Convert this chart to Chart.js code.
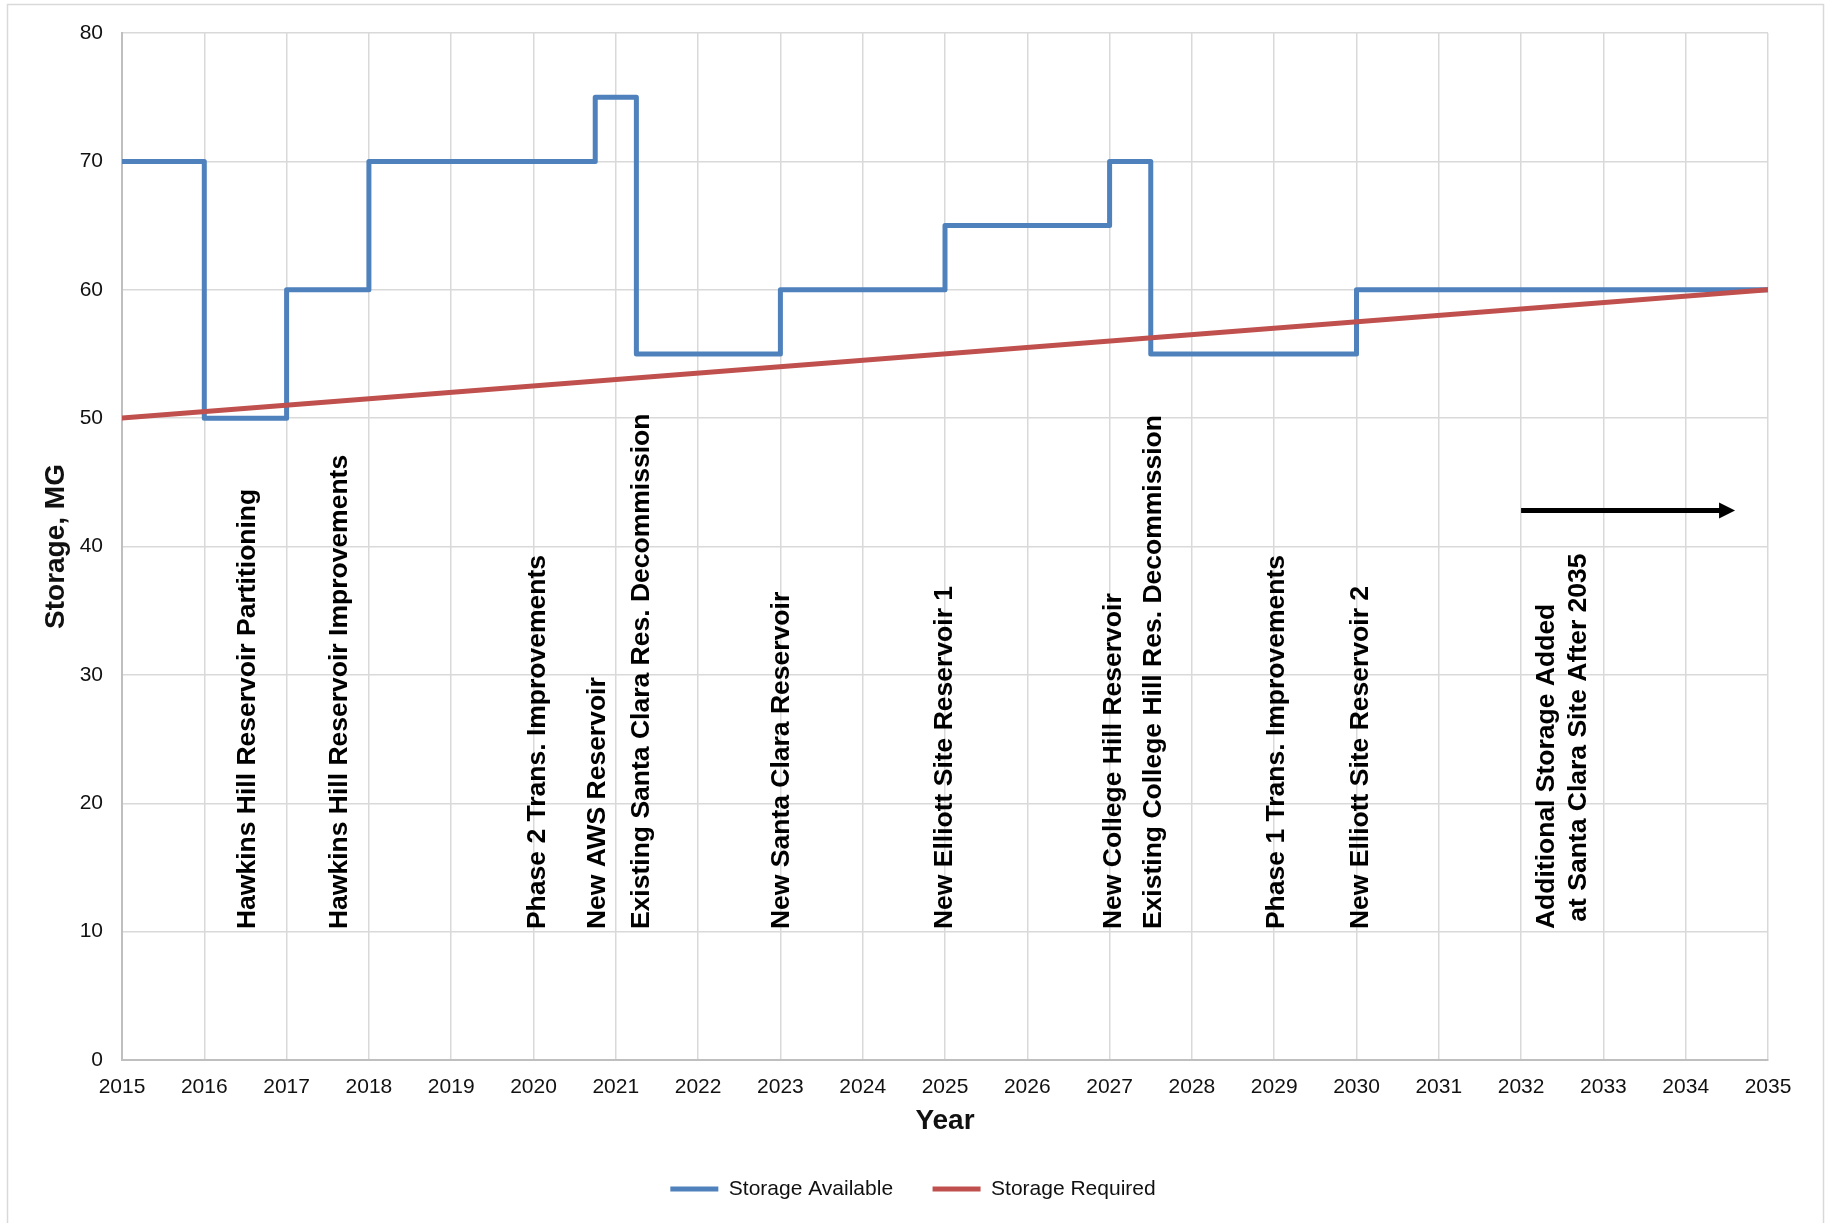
<!DOCTYPE html>
<html>
<head>
<meta charset="utf-8">
<title>Storage Available vs Storage Required</title>
<script src="https://cdn.jsdelivr.net/npm/chart.js@4.4.1/dist/chart.umd.min.js"></script>
<style>
  html, body { margin: 0; padding: 0; background: #fff; }
  canvas { display: block; }
</style>
</head>
<body>
<canvas id="storageChart" width="1826" height="1223"></canvas>
<script>
// storage available: each value holds until the next year in the list
var availableYears = [2015, 2016, 2017, 2018, 2020.75, 2021.25, 2023, 2025, 2027, 2027.5, 2030, 2035];
var storageAvailable = [70, 50, 60, 70, 75, 55, 60, 65, 70, 55, 60, 60];

// storage required grows straight from 2015 to 2035
var requiredYears = [2015, 2035];
var storageRequired = [50, 60];

// project notes written up the chart, one per year position
var noteYears = [2016.53, 2017.64, 2020.05, 2020.78, 2021.31, 2023.01, 2025, 2027.05, 2027.54, 2029.03, 2030.05, 2032.5];
var noteLabels = [
    'Hawkins Hill Reservoir Partitioning',
    'Hawkins Hill Reservoir Improvements',
    'Phase 2 Trans. Improvements',
    'New AWS Reservoir',
    'Existing Santa Clara Res. Decommission',
    'New Santa Clara Reservoir',
    'New Elliott Site Reservoir 1',
    'New College Hill Reservoir',
    'Existing College Hill Res. Decommission',
    'Phase 1 Trans. Improvements',
    'New Elliott Site Reservoir 2',
    ['Additional Storage Added', ' at Santa Clara Site After 2035']
];
var noteBase = 10.2;

// arrow pointing past 2035
var arrowYears = [2032, 2034.6];
var arrowLevel = 42.8;

var blue = '#4f81bd';
var red = '#c0504d';
var fontFamily = '"Liberation Sans", Arial, sans-serif';

function points(xs, ys) {
    return xs.map((x, i) => ({x: x, y: ys[i]}));
}

var framePlugin = {
    id: 'frame',
    beforeDraw(chart) {
        const ctx = chart.ctx;
        ctx.save();
        ctx.fillStyle = '#fff';
        ctx.fillRect(0, 0, chart.width, chart.height);
        ctx.restore();
    },
    afterLayout(chart) {
        // center the legend on the whole frame
        const lg = chart.legend;
        lg.left = 0;
        lg.right = chart.width;
        lg.width = chart.width;
    },
    afterDraw(chart) {
        const ctx = chart.ctx;
        ctx.save();
        ctx.strokeStyle = '#d9d9d9';
        ctx.lineWidth = 1.5;
        ctx.strokeRect(7.5, 4.5, chart.width - 10, chart.height + 20);
        ctx.restore();
    }
};

var notesPlugin = {
    id: 'notes',
    afterDatasetsDraw(chart) {
        const ctx = chart.ctx;
        const x = chart.scales.x;
        const y = chart.scales.y;
        ctx.save();
        ctx.fillStyle = '#000';
        ctx.font = 'bold 26.5px ' + fontFamily;
        ctx.textAlign = 'left';
        ctx.textBaseline = 'middle';
        noteLabels.forEach((label, i) => {
            const lines = [].concat(label);
            const cx = x.getPixelForValue(noteYears[i]);
            const by = y.getPixelForValue(noteBase);
            lines.forEach((line, j) => {
                ctx.save();
                ctx.translate(cx + (j - (lines.length - 1) / 2) * 32, by);
                ctx.rotate(-Math.PI / 2);
                ctx.fillText(line, 0, 0);
                ctx.restore();
            });
        });

        // arrow
        const x0 = x.getPixelForValue(arrowYears[0]);
        const x1 = x.getPixelForValue(arrowYears[1]);
        const ay = y.getPixelForValue(arrowLevel);
        ctx.strokeStyle = '#000';
        ctx.lineWidth = 5;
        ctx.beginPath();
        ctx.moveTo(x0, ay);
        ctx.lineTo(x1 - 14, ay);
        ctx.stroke();
        ctx.beginPath();
        ctx.moveTo(x1, ay);
        ctx.lineTo(x1 - 16, ay - 8);
        ctx.lineTo(x1 - 16, ay + 8);
        ctx.closePath();
        ctx.fill();
        ctx.restore();
    }
};

var ctx = document.getElementById('storageChart').getContext('2d');

var storageChart = new Chart(ctx, {
    type: 'line',
    data: {
        datasets: [{
            label: 'Storage Required',
            data: points(requiredYears, storageRequired),
            borderColor: red,
            backgroundColor: red,
            borderWidth: 5,
            borderCapStyle: 'round',
            pointRadius: 0,
            fill: false
        }, {
            label: 'Storage Available',
            data: points(availableYears, storageAvailable),
            borderColor: blue,
            backgroundColor: blue,
            borderWidth: 5,
            borderCapStyle: 'round',
            borderJoinStyle: 'round',
            stepped: 'before',
            pointRadius: 0,
            fill: false
        }]
    },
    options: {
        responsive: false,
        animation: false,
        devicePixelRatio: 1,
        layout: {
            padding: {left: 8, top: 33, right: 58, bottom: 13.5}
        },
        scales: {
            x: {
                type: 'linear',
                min: 2015,
                max: 2035,
                afterFit: (scale) => { scale.height = 79; },
                ticks: {
                    stepSize: 1,
                    padding: 15,
                    color: '#111',
                    font: {family: fontFamily, size: 21},
                    callback: (value) => String(value)
                },
                grid: {color: '#d9d9d9', lineWidth: 1.5, drawTicks: false},
                border: {color: '#bfbfbf', width: 2},
                title: {
                    display: true,
                    text: 'Year',
                    color: '#111',
                    font: {family: fontFamily, size: 28, weight: 'bold'},
                    padding: {top: 0, bottom: 1}
                }
            },
            y: {
                min: 0,
                max: 80,
                afterFit: (scale) => { scale.width = 114; },
                ticks: {
                    stepSize: 10,
                    padding: 19,
                    color: '#111',
                    font: {family: fontFamily, size: 21}
                },
                grid: {color: '#d9d9d9', lineWidth: 1.5, drawTicks: false},
                border: {color: '#bfbfbf', width: 2},
                title: {
                    display: true,
                    text: 'Storage, MG',
                    color: '#111',
                    font: {family: fontFamily, size: 28, weight: 'bold'},
                    padding: {top: 31, bottom: 0}
                }
            }
        },
        plugins: {
            legend: {
                position: 'bottom',
                labels: {
                    usePointStyle: true,
                    pointStyle: 'line',
                    pointStyleWidth: 48,
                    padding: 39.5,
                    color: '#111',
                    font: {family: fontFamily, size: 21},
                    sort: (a, b) => b.datasetIndex - a.datasetIndex
                }
            },
            tooltip: {enabled: false}
        }
    },
    plugins: [framePlugin, notesPlugin]
});
</script>
</body>
</html>
